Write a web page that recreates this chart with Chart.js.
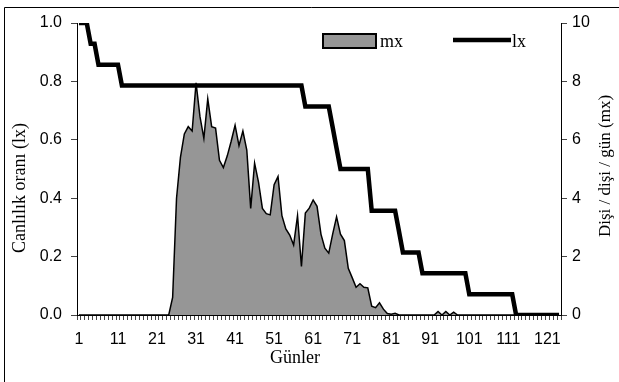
<!DOCTYPE html>
<html>
<head>
<meta charset="utf-8">
<script src="https://cdn.jsdelivr.net/npm/chart.js@4.4.1/dist/chart.umd.min.js"></script>
<style>
  html, body { margin: 0; padding: 0; background: #ffffff; }
  #wrap { width: 619px; height: 382px; position: relative; }
</style>
</head>
<body>
<div id="wrap"><canvas id="c" width="619" height="382"></canvas></div>
<script>
// ---- data ----
const days = [1,2,3,4,5,6,7,8,9,10,11,12,13,14,15,16,17,18,19,20,
  21,22,23,24,25,26,27,28,29,30,31,32,33,34,35,36,37,38,39,40,
  41,42,43,44,45,46,47,48,49,50,51,52,53,54,55,56,57,58,59,60,
  61,62,63,64,65,66,67,68,69,70,71,72,73,74,75,76,77,78,79,80,
  81,82,83,84,85,86,87,88,89,90,91,92,93,94,95,96,97,98,99,100,
  101,102,103,104,105,106,107,108,109,110,111,112,113,114,115,116,117,118,119,120,
  121,122,123,124];

const xTickLabels = ['1','11','21','31','41','51','61','71','81','91','101','111','121'];
const leftTicks = [0, 0.2, 0.4, 0.6, 0.8, 1.0];
const rightTicks = [0, 2, 4, 6, 8, 10];

// survival proportion (lx), left axis
const lx = [1,1,1,0.929,0.929,0.857,0.857,0.857,0.857,0.857,
  0.857,0.786,0.786,0.786,0.786,0.786,0.786,0.786,0.786,0.786,
  0.786,0.786,0.786,0.786,0.786,0.786,0.786,0.786,0.786,0.786,
  0.786,0.786,0.786,0.786,0.786,0.786,0.786,0.786,0.786,0.786,
  0.786,0.786,0.786,0.786,0.786,0.786,0.786,0.786,0.786,0.786,
  0.786,0.786,0.786,0.786,0.786,0.786,0.786,0.786,0.714,0.714,
  0.714,0.714,0.714,0.714,0.714,0.643,0.571,0.5,0.5,0.5,
  0.5,0.5,0.5,0.5,0.5,0.357,0.357,0.357,0.357,0.357,
  0.357,0.357,0.286,0.214,0.214,0.214,0.214,0.214,0.143,0.143,
  0.143,0.143,0.143,0.143,0.143,0.143,0.143,0.143,0.143,0.143,
  0.071,0.071,0.071,0.071,0.071,0.071,0.071,0.071,0.071,0.071,
  0.071,0.071,0,0,0,0,0,0,0,0,
  0,0,0,0];

// female / female / day (mx), right axis
const mx = [0,0,0,0,0,0,0,0,0,0,
  0,0,0,0,0,0,0,0,0,0,
  0,0,0,0,0.6,4.0,5.4,6.2,6.45,6.3,
  7.95,6.8,6.05,7.4,6.45,6.4,5.3,5.05,5.45,5.95,
  6.5,5.8,6.3,5.65,3.65,5.2,4.55,3.65,3.47,3.43,
  4.46,4.74,3.4,2.95,2.74,2.4,3.4,1.66,3.49,3.66,
  3.94,3.72,2.77,2.29,2.12,2.77,3.36,2.77,2.55,1.6,
  1.28,0.95,1.07,0.95,0.93,0.3,0.25,0.42,0.2,0.05,
  0.03,0.06,0,0,0,0,0,0,0,0,
  0,0,0.12,0,0.12,0,0.1,0,0,0,
  0,0,0,0,0,0,0,0,0,0,
  0,0,0,0,0,0,0,0,0,0,
  0,0,0,0];

const leftTitle = 'Canlılık oranı (lx)';
const rightTitle = 'Dişi / dişi / gün (mx)';
const xTitle = 'Günler';
const legendLabels = ['mx', 'lx'];

const serif = '"Liberation Serif", "Times New Roman", serif';
const sans = '"Liberation Sans", Arial, sans-serif';

const decor = {
  id: 'decor',
  beforeDraw(chart) {
    const ctx = chart.ctx;
    ctx.save();
    ctx.fillStyle = '#ffffff';
    ctx.fillRect(0, 0, chart.width, chart.height);
    ctx.restore();
  },
  afterDraw(chart) {
    const ctx = chart.ctx;
    ctx.save();
    // outer frame (top and left visible)
    ctx.strokeStyle = '#000';
    ctx.lineWidth = 1;
    ctx.beginPath();
    ctx.moveTo(4.5, 382);
    ctx.lineTo(4.5, 7.5);
    ctx.lineTo(619, 7.5);
    ctx.stroke();

    // axis titles
    ctx.fillStyle = '#000';
    ctx.textAlign = 'center';
    ctx.textBaseline = 'middle';
    ctx.font = '18px ' + serif;
    ctx.save();
    ctx.translate(20, 188);
    ctx.rotate(-Math.PI / 2);
    ctx.fillText(leftTitle, 0, 0);
    ctx.restore();
    ctx.font = '17px ' + serif;
    ctx.save();
    ctx.translate(606, 166);
    ctx.rotate(-Math.PI / 2);
    ctx.fillText(rightTitle, 0, 0);
    ctx.restore();
    ctx.font = '18px ' + serif;
    ctx.fillText(xTitle, 295, 358);

    // legend
    ctx.fillStyle = '#969696';
    ctx.fillRect(323, 34, 53, 14);
    ctx.strokeStyle = '#000';
    ctx.lineWidth = 2;
    ctx.strokeRect(323, 34, 53, 14);
    ctx.fillStyle = '#000';
    ctx.font = '18px ' + serif;
    ctx.textAlign = 'left';
    ctx.textBaseline = 'alphabetic';
    ctx.fillText(legendLabels[0], 380, 47);
    ctx.beginPath();
    ctx.lineWidth = 4.5;
    ctx.moveTo(453, 40);
    ctx.lineTo(511, 40);
    ctx.stroke();
    ctx.fillText(legendLabels[1], 512, 47);
    ctx.restore();
  }
};

new Chart(document.getElementById('c'), {
  type: 'line',
  data: {
    labels: days,
    datasets: [
      {
        label: legendLabels[0],
        data: mx,
        yAxisID: 'y2',
        fill: 'origin',
        backgroundColor: '#969696',
        borderColor: '#000',
        borderWidth: 1.5,
        pointRadius: 0,
        tension: 0,
        order: 2
      },
      {
        label: legendLabels[1],
        data: lx,
        yAxisID: 'y',
        fill: false,
        borderColor: '#000',
        borderWidth: 4.5,
        pointRadius: 0,
        tension: 0,
        borderJoinStyle: 'miter',
        order: 1
      }
    ]
  },
  options: {
    responsive: false,
    animation: false,
    devicePixelRatio: 1,
    layout: { padding: { top: 23, left: 0, right: 0, bottom: 0 } },
    plugins: {
      legend: { display: false },
      tooltip: { enabled: false }
    },
    scales: {
      x: {
        type: 'category',
        offset: true,
        afterFit(scale) { scale.height = 67; },
        border: { display: true, color: '#000', width: 1 },
        grid: { display: true, drawOnChartArea: false, drawTicks: true, tickLength: 5, color: '#444', offset: true },
        ticks: {
          autoSkip: false,
          maxRotation: 0,
          minRotation: 0,
          padding: 10,
          color: '#000',
          font: { family: sans, size: 16 },
          callback(value, index) {
            const lab = String(days[index]);
            return xTickLabels.includes(lab) ? lab : '';
          }
        },
        title: { display: false }
      },
      y: {
        position: 'left',
        min: 0,
        max: 1,
        afterFit(scale) { scale.width = 77; },
        afterBuildTicks(scale) { scale.ticks = leftTicks.map(v => ({ value: v })); },
        border: { display: true, color: '#000', width: 1 },
        grid: { display: true, drawOnChartArea: false, drawTicks: true, tickLength: 6, color: '#444' },
        ticks: {
          padding: 9,
          color: '#000',
          font: { family: sans, size: 16 },
          callback(v) { return Number(v).toFixed(1); }
        }
      },
      y2: {
        position: 'right',
        min: 0,
        max: 10,
        afterFit(scale) { scale.width = 58; },
        afterBuildTicks(scale) { scale.ticks = rightTicks.map(v => ({ value: v })); },
        border: { display: true, color: '#000', width: 1 },
        grid: { display: true, drawOnChartArea: false, drawTicks: true, tickLength: 6, color: '#444' },
        ticks: {
          padding: 5,
          color: '#000',
          font: { family: sans, size: 16 },
          callback(v) { return String(v); }
        }
      }
    }
  },
  plugins: [decor]
});
</script>
</body>
</html>
